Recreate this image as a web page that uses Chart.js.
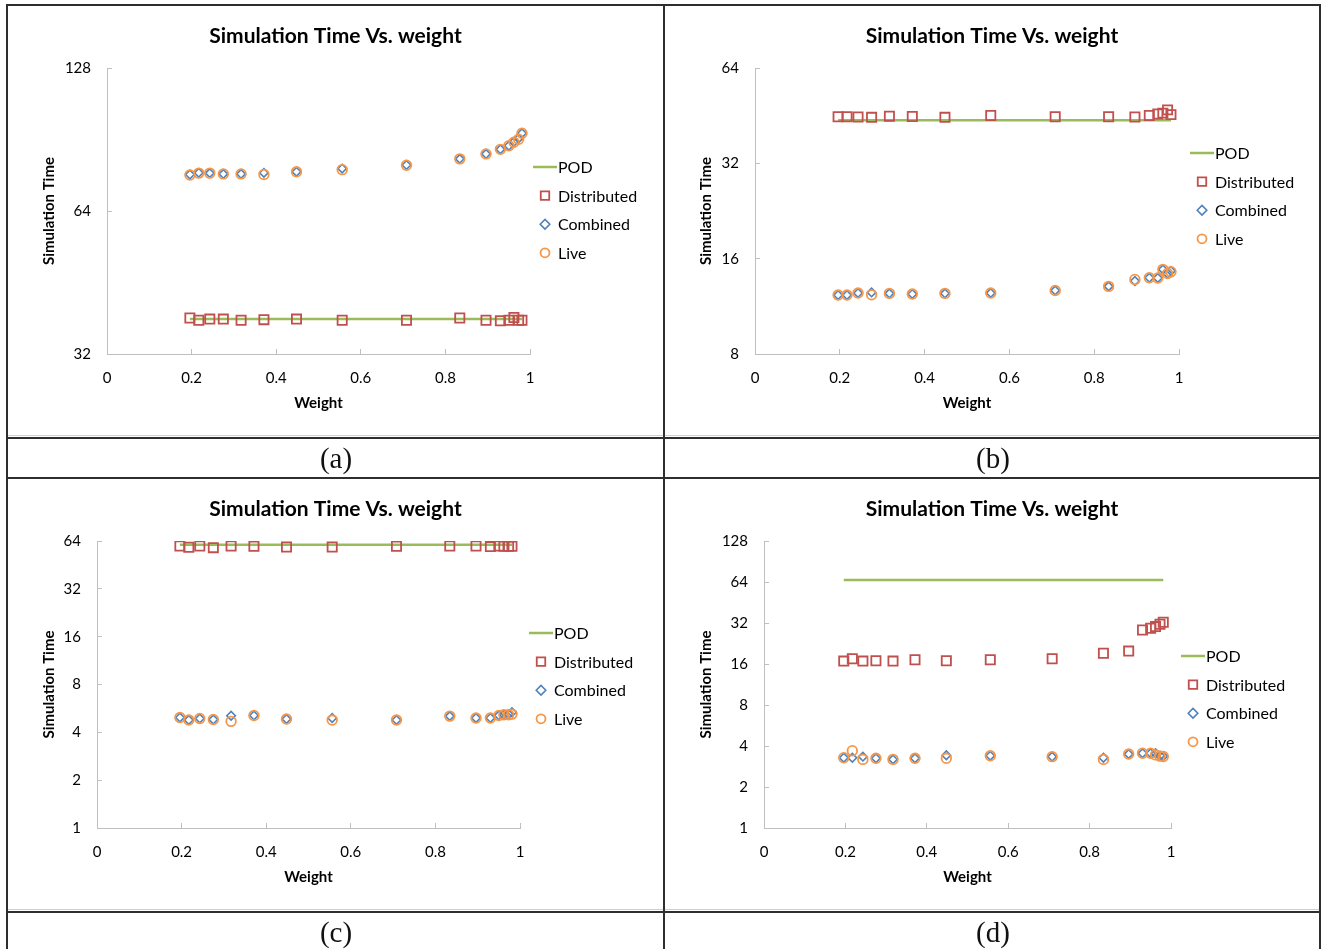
<!DOCTYPE html>
<html lang="en">
<head>
<meta charset="UTF-8">
<title>Simulation Time Vs. weight</title>
<script src="https://cdn.jsdelivr.net/npm/chart.js"></script>
<style>
  body { margin: 0; background: #fff; }
  .figure { position: relative; width: 1323px; height: 949px; overflow: hidden; }
  .cell { position: absolute; }
  .cell canvas { display: block; }
  .rule { position: absolute; background: #2e2e2e; }
  .frame { position: absolute; background: #d0d0d0; }
  .caption {
    position: absolute; width: 656px; height: 38px; line-height: 38px;
    text-align: center; font-family: "Liberation Serif", serif; font-size: 29px; color: #111;
  }
</style>
</head>
<body>
<div class="figure">
  <div class="cell" style="left:8px;top:6px"><canvas id="chartA" width="655" height="431"></canvas></div>
  <div class="cell" style="left:665px;top:6px"><canvas id="chartB" width="654" height="431"></canvas></div>
  <div class="cell" style="left:8px;top:479px"><canvas id="chartC" width="655" height="432"></canvas></div>
  <div class="cell" style="left:665px;top:479px"><canvas id="chartD" width="654" height="432"></canvas></div>

  <!-- light chart borders sitting on the table rules -->
  <div class="frame" style="left:8px;top:435px;width:1311px;height:1px"></div>
  <div class="frame" style="left:8px;top:909px;width:1311px;height:1px"></div>

  <!-- table rules -->
  <div class="rule" style="left:6px;top:4px;width:1315px;height:2px"></div>
  <div class="rule" style="left:6px;top:4px;width:2px;height:945px"></div>
  <div class="rule" style="left:1319px;top:4px;width:2px;height:945px"></div>
  <div class="rule" style="left:663px;top:4px;width:2px;height:945px"></div>
  <div class="rule" style="left:6px;top:437px;width:1315px;height:2px"></div>
  <div class="rule" style="left:6px;top:477px;width:1315px;height:2px"></div>
  <div class="rule" style="left:6px;top:911px;width:1315px;height:2px"></div>

  <div class="caption" style="left:8px;top:439px">(a)</div>
  <div class="caption" style="left:665px;top:439px">(b)</div>
  <div class="caption" style="left:8px;top:913px">(c)</div>
  <div class="caption" style="left:665px;top:913px">(d)</div>
</div>

<script>
// weights shared by every run
const weights = [0.196, 0.217, 0.243, 0.275, 0.317, 0.371, 0.448, 0.556, 0.708, 0.834, 0.896, 0.930, 0.950, 0.962, 0.973, 0.981];
const xTicks = [0, 0.2, 0.4, 0.6, 0.8, 1];

// (a)
const podA = 37.9;
const distA = [38.1, 37.7, 37.9, 37.9, 37.7, 37.8, 37.9, 37.7, 37.7, 38.1, 37.7, 37.6, 37.7, 38.2, 37.7, 37.7];
const combA = [76.4, 77.0, 76.9, 76.6, 76.6, 77.0, 77.4, 78.6, 80.0, 82.4, 84.4, 86.3, 87.8, 89.5, 91.0, 93.3];
const liveA = [76.2, 76.9, 76.9, 76.6, 76.6, 76.4, 77.4, 78.2, 79.9, 82.4, 84.4, 86.3, 87.8, 89.3, 90.6, 93.3];
const yTicksA = [32, 64, 128];

// (b)
const podB = 43.8;
const distB = [44.9, 44.9, 44.8, 44.7, 45.1, 45.0, 44.7, 45.3, 44.9, 44.9, 44.8, 45.3, 45.8, 46.1, 47.2, 45.6];
const combB = [12.28, 12.28, 12.46, 12.52, 12.43, 12.37, 12.43, 12.46, 12.70, 13.08, 13.60, 13.93, 13.90, 14.80, 14.37, 14.64];
const liveB = [12.28, 12.28, 12.46, 12.30, 12.43, 12.37, 12.43, 12.46, 12.70, 13.08, 13.75, 13.93, 13.90, 14.80, 14.37, 14.55];
const yTicksB = [8, 16, 32, 64];

// (c)
const podC = 60.7;
const distC = [59.5, 58.4, 59.5, 58.1, 59.5, 59.3, 58.7, 58.7, 59.3, 59.5, 59.5, 59.0, 59.5, 59.3, 59.3, 59.3];
const combC = [4.96, 4.78, 4.89, 4.82, 5.09, 5.11, 4.85, 4.92, 4.78, 5.06, 4.92, 4.92, 5.11, 5.16, 5.21, 5.35];
const liveC = [4.96, 4.78, 4.89, 4.82, 4.69, 5.11, 4.85, 4.78, 4.78, 5.06, 4.92, 4.92, 5.11, 5.16, 5.16, 5.21];
const yTicksC = [1, 2, 4, 8, 16, 32, 64];

// (d)
const podD = 66.2;
const distD = [16.8, 17.5, 16.8, 16.9, 16.8, 17.2, 16.9, 17.2, 17.5, 19.2, 19.9, 28.4, 29.3, 30.1, 31.3, 32.4];
const combD = [3.28, 3.28, 3.34, 3.25, 3.19, 3.25, 3.42, 3.39, 3.34, 3.28, 3.49, 3.54, 3.54, 3.54, 3.39, 3.37];
const liveD = [3.28, 3.69, 3.19, 3.25, 3.19, 3.25, 3.25, 3.39, 3.34, 3.19, 3.49, 3.54, 3.54, 3.44, 3.37, 3.35];
const yTicksD = [1, 2, 4, 8, 16, 32, 64, 128];

const FONT = 'Lato';
const AXIS_GRAY = '#bfbfbf';

const pts = ys => ys.map((y, i) => ({ x: weights[i], y: y }));

// legend drawn at a fixed spot to the right of the plot
const sideLegend = {
  id: 'sideLegend',
  afterDraw(chart, args, opts) {
    const ctx = chart.ctx;
    ctx.save();
    ctx.font = '16px ' + FONT;
    ctx.textBaseline = 'middle';
    chart.data.datasets.forEach((ds, i) => {
      const y = opts.y + i * opts.step;
      const x = opts.x;
      ctx.strokeStyle = ds.borderColor;
      if (ds.showLine) {
        ctx.lineWidth = 2.5;
        ctx.beginPath();
        ctx.moveTo(x - 12, y);
        ctx.lineTo(x + 12, y);
        ctx.stroke();
      } else {
        ctx.lineWidth = ds.borderWidth;
        ctx.fillStyle = 'rgba(0,0,0,0)';
        Chart.helpers.drawPoint(ctx, {
          pointStyle: ds.pointStyle, radius: ds.legendRadius, borderWidth: ds.borderWidth, rotation: 0
        }, x, y);
      }
      ctx.fillStyle = '#000';
      ctx.fillText(ds.label, x + 13, y + 1);
    });
    ctx.restore();
  }
};

function makeChart(id, pod, dist, comb, live, yTicks, box) {
  const canvas = document.getElementById(id);
  const W = canvas.width, H = canvas.height;
  return new Chart(canvas, {
    type: 'scatter',
    data: {
      datasets: [
        {
          label: 'POD', showLine: true, order: 3,
          data: [{ x: weights[0], y: pod }, { x: weights[weights.length - 1], y: pod }],
          borderColor: '#9bbb59', borderWidth: 2.5, pointRadius: 0
        },
        {
          label: 'Distributed', order: 2, data: pts(dist),
          pointStyle: 'rect', pointRadius: 6.5, legendRadius: 6,
          borderColor: '#c0504d', backgroundColor: 'rgba(0,0,0,0)', borderWidth: 1.8
        },
        {
          label: 'Combined', order: 1, data: pts(comb),
          pointStyle: 'rectRot', pointRadius: 4.3, legendRadius: 4.8,
          borderColor: '#4f81bd', backgroundColor: 'rgba(0,0,0,0)', borderWidth: 1.6
        },
        {
          label: 'Live', order: 0, data: pts(live),
          pointStyle: 'circle', pointRadius: 4.8, legendRadius: 4.5,
          borderColor: '#f79646', backgroundColor: 'rgba(0,0,0,0)', borderWidth: 1.8
        }
      ]
    },
    options: {
      responsive: false,
      animation: false,
      layout: { padding: { left: 0, right: 0, top: 0, bottom: 21 } },
      plugins: {
        legend: { display: false },
        tooltip: { enabled: false },
        title: {
          display: true,
          text: 'Simulation Time Vs. weight',
          color: '#000',
          font: { family: FONT, size: 21, weight: 'bold', lineHeight: 1.2 },
          padding: { top: 18, bottom: box.top - 18 - 25.2 }
        },
        sideLegend: box.legend
      },
      scales: {
        x: {
          type: 'linear', min: 0, max: 1,
          afterBuildTicks: s => { s.ticks = xTicks.map(v => ({ value: v })); },
          afterFit: s => { s.height = H - 21 - box.bottom; },
          ticks: { color: '#000', padding: 20, font: { family: FONT, size: 15 }, autoSkip: false, maxRotation: 0, callback: v => String(v) },
          grid: { drawOnChartArea: false, drawTicks: true, tickLength: -5, color: AXIS_GRAY },
          border: { display: true, color: AXIS_GRAY, width: 1 },
          title: { display: true, text: 'Weight', color: '#000', font: { family: FONT, size: 15, weight: 'bold' } }
        },
        y: {
          type: 'logarithmic', min: yTicks[0], max: yTicks[yTicks.length - 1],
          afterBuildTicks: s => { s.ticks = yTicks.map(v => ({ value: v })); },
          afterFit: s => { s.width = box.left; },
          ticks: { color: '#000', padding: 21, font: { family: FONT, size: 15 }, autoSkip: false, callback: v => String(v) },
          grid: { drawOnChartArea: false, drawTicks: true, tickLength: -5, color: AXIS_GRAY },
          border: { display: true, color: AXIS_GRAY, width: 1 },
          title: {
            display: true, text: 'Simulation Time', color: '#000',
            padding: { top: 32, bottom: 4 },
            font: { family: FONT, size: 15, weight: 'bold' }
          }
        },
        // empty right-hand strip that holds the legend
        side: {
          type: 'linear', position: 'right', min: 0, max: 1,
          ticks: { display: false },
          grid: { display: false },
          border: { display: false },
          afterFit: s => { s.width = W - box.right; }
        }
      }
    },
    plugins: [sideLegend]
  });
}

makeChart('chartA', podA, distA, combA, liveA, yTicksA,
  { left: 99, right: 522, top: 62, bottom: 348, legend: { x: 537, y: 161, step: 28.6 } });
makeChart('chartB', podB, distB, combB, liveB, yTicksB,
  { left: 90, right: 514, top: 62, bottom: 348, legend: { x: 537, y: 147, step: 28.6 } });
makeChart('chartC', podC, distC, combC, liveC, yTicksC,
  { left: 89, right: 512, top: 62, bottom: 349, legend: { x: 533, y: 154, step: 28.6 } });
makeChart('chartD', podD, distD, combD, liveD, yTicksD,
  { left: 99, right: 506, top: 62, bottom: 349, legend: { x: 528, y: 177, step: 28.6 } });
</script>
</body>
</html>
